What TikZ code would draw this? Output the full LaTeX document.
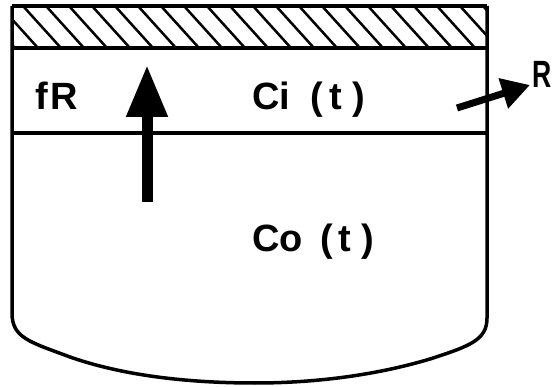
\documentclass[tikz,border=0pt]{standalone}
\usepackage{graphicx}
\usepackage{fontspec}
\setmainfont{Liberation Sans}
\usetikzlibrary{arrows.meta}

\tikzset{
  wall/.style={line width=3.5pt, line join=round},
  hatchline/.style={line width=2.5pt},
  txt/.style={inner sep=0pt, font=\fontsize{38}{40}\selectfont\bfseries},
}

\begin{document}
\begin{tikzpicture}[x=1pt,y=-1pt]
\useasboundingbox (0,0) rectangle (557,387);
% hatched lid
\begin{scope}
  \clip (12,6) rectangle (487,48);
  \foreach \hx in {-46,-23,...,510}
    \draw[hatchline] (\hx,6) -- (\hx+38,48);
\end{scope}
\draw[wall] (12,6) -- (487,6);
\draw[wall] (12,48) -- (487,48);
% vessel and interface
\draw[wall] (12,6) -- (12,313) .. controls (12,338) and (30,342) .. (70,357)
  .. controls (130,378) and (200,383) .. (255,383)
  .. controls (320,383) and (380,374) .. (430,359)
  .. controls (470,346) and (487,340) .. (487,318) -- (487,6);
\draw[wall] (12,133) -- (487,133);
% labels
\node[txt, anchor=base west] (fr) at (35,110) {f\hspace{3pt}R};
\node[txt, anchor=base west] (ci) at (252,110) {Ci\hspace{20pt}(\hspace{7pt}t\hspace{10pt})};
\node[txt, anchor=base west] (co) at (252,252) {Co\hspace{18pt}(\hspace{5pt}t\hspace{10pt})};
\node[txt, anchor=base west] (rr) at (532,88) {\scalebox{0.7}[1]{R}};
% flows
\coordinate (upTail) at (147,202);
\coordinate (upTip) at (147,65);
\draw[line width=11pt, -{Triangle[length=52pt,width=39pt]}] (upTail) -- (upTip);
\coordinate (outTail) at (457,108);
\coordinate (outTip) at (530,85);
\draw[line width=7pt, -{Triangle[length=28pt,width=30pt]}] (outTail) -- (outTip);
\end{tikzpicture}
\end{document}
